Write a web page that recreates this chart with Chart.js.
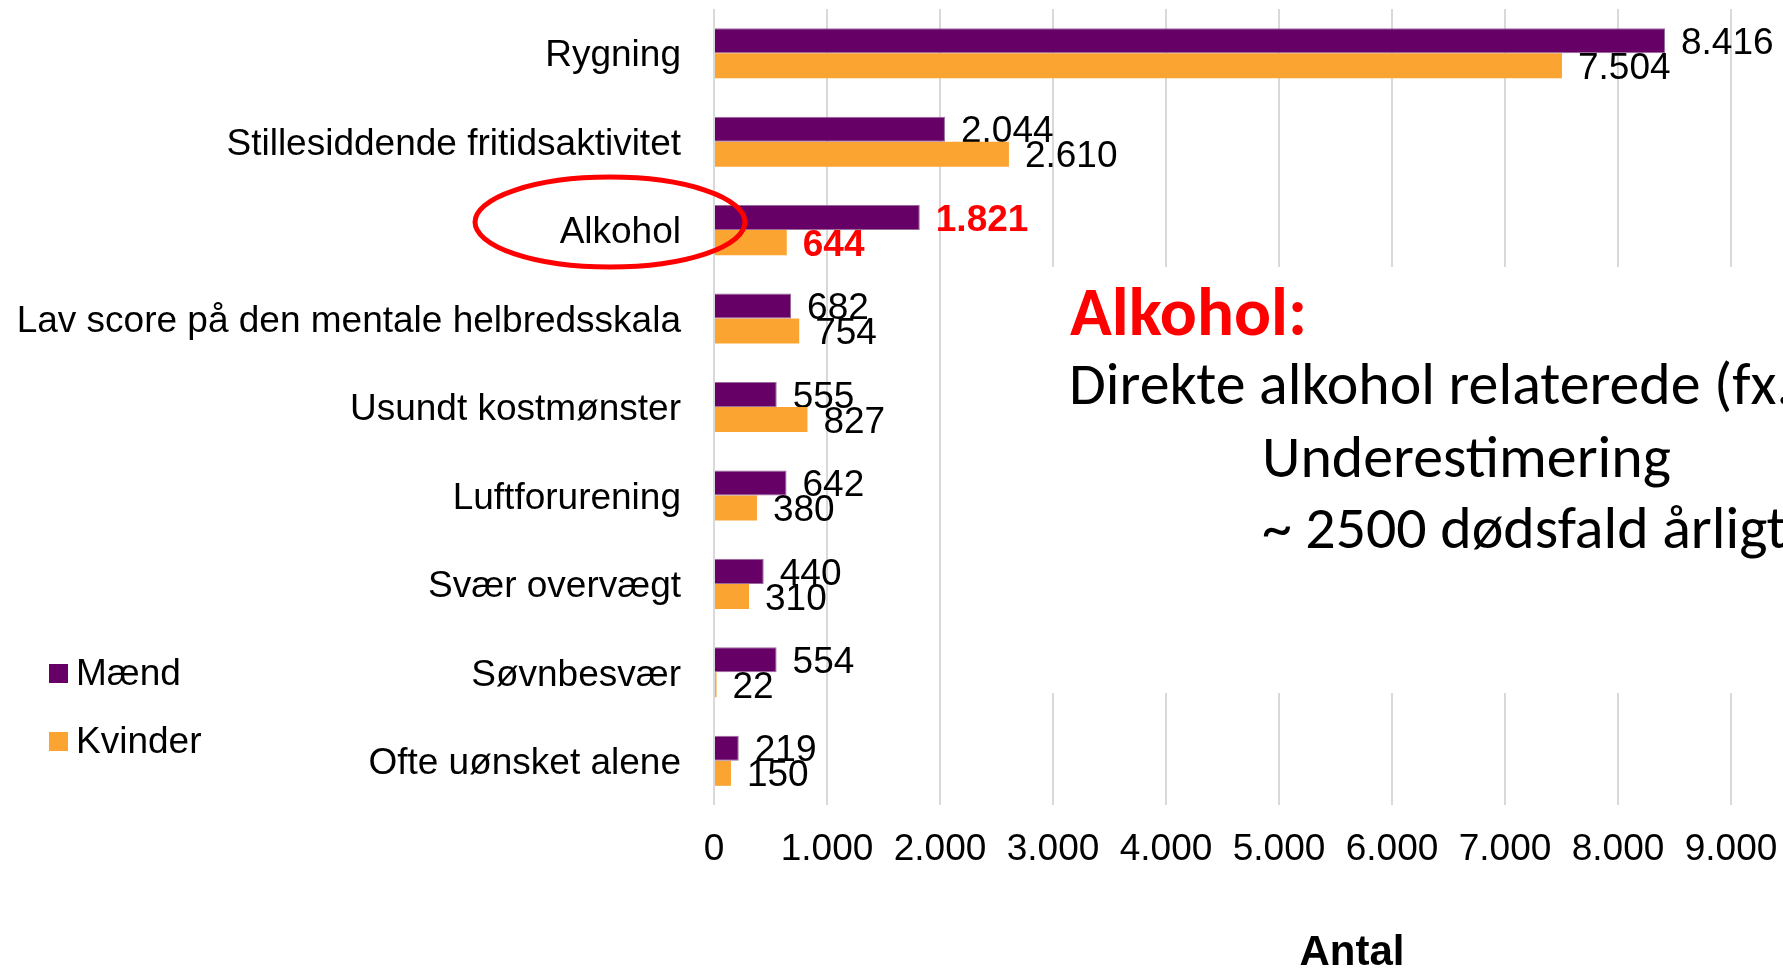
<!DOCTYPE html>
<html>
<head>
<meta charset="utf-8">
<script src="https://cdn.jsdelivr.net/npm/chart.js@4.4.1/dist/chart.umd.min.js"></script>
<style>
    html, body { margin: 0; padding: 0; background: #fff; overflow: hidden; }
</style>
</head>
<body>
<canvas id="bar-chart" width="1783" height="971"></canvas>
<script>
// Data
var categories = ['Rygning', 'Stillesiddende fritidsaktivitet', 'Alkohol', 'Lav score på den mentale helbredsskala',
    'Usundt kostmønster', 'Luftforurening', 'Svær overvægt', 'Søvnbesvær', 'Ofte uønsket alene'];
var maend = [8416, 2044, 1821, 682, 555, 642, 440, 554, 219];
var kvinder = [7504, 2610, 644, 754, 827, 380, 310, 22, 150];
var seriesNames = ['Mænd', 'Kvinder'];
var xTickLabels = ['0', '1.000', '2.000', '3.000', '4.000', '5.000', '6.000', '7.000', '8.000', '9.000'];
var axisTitle = 'Antal';
var highlight = 'Alkohol';
var noteTitle = 'Alkohol:';
var noteLines = ['Direkte alkohol relaterede (fx.', 'Underestimering', '~ 2500 dødsfald årligt'];

var colors = ['#660066', '#FBA431'];

// check which fonts are really there
function hasFont(name) {
    var c = document.createElement('canvas').getContext('2d');
    var s = 'Stillesiddende Mænd 1.000';
    c.font = '40px monospace';
    var a = c.measureText(s).width;
    c.font = '40px "' + name + '", monospace';
    return c.measureText(s).width !== a;
}
var narrow = hasFont('Liberation Sans Narrow');
var chartFamily = narrow ? '"Liberation Sans Narrow"' : '"Liberation Sans", Arial, sans-serif';
var chartSize = narrow ? 45 : 37;
var noteFamily = hasFont('Carlito') ? 'Carlito' : 'Lato';

function fmt(v) {
    return String(v).replace(/\B(?=(\d{3})+(?!\d))/g, '.');
}

function fitSize(c, font, text, width) {
    c.font = font.replace('SIZE', 100);
    return 100 * width / c.measureText(text).width;
}

function drawValues(chart, di) {
    var meta = chart.getDatasetMeta(di);
    var c = chart.ctx;
    c.save();
    c.textBaseline = 'middle';
    c.textAlign = 'left';
    meta.data.forEach(function (bar, i) {
        var hi = categories[i] === highlight;
        c.font = (hi ? 'bold ' : '') + chartSize + 'px ' + chartFamily;
        c.fillStyle = hi ? '#FF0000' : '#000';
        c.fillText(fmt(chart.data.datasets[di].data[i]), bar.x + 16, bar.y + 3);
    });
    c.restore();
}

var extras = {
    id: 'extras',
    beforeDatasetsDraw: function (chart) {
        // men's labels go under the women's bars, like the original
        drawValues(chart, 0);
    },
    afterDatasetsDraw: function (chart) {
        drawValues(chart, 1);
    },
    afterDraw: function (chart) {
        var c = chart.ctx;
        c.save();

        // red ring round the highlighted category
        var yh = chart.scales.y.getPixelForValue(categories.indexOf(highlight));
        c.strokeStyle = '#FF0000';
        c.lineWidth = 5;
        c.beginPath();
        c.ellipse(610, yh - 8, 135, 45, 0, 0, Math.PI * 2);
        c.stroke();

        // legend
        c.textBaseline = 'middle';
        c.textAlign = 'left';
        c.font = chartSize + 'px ' + chartFamily;
        [673, 741].forEach(function (y, i) {
            c.fillStyle = colors[i];
            c.fillRect(49, y - 9, 19, 19);
            c.fillStyle = '#000';
            c.fillText(seriesNames[i], 76, y + 2);
        });

        // axis title
        c.textAlign = 'center';
        c.font = 'bold ' + (narrow ? 50 : 42) + 'px ' + chartFamily;
        c.fillText(axisTitle, 1352, 953);

        // note box
        c.fillStyle = '#fff';
        c.fillRect(1000, 267, 783, 426);
        c.textAlign = 'left';
        c.textBaseline = 'alphabetic';
        var ts = fitSize(c, 'bold SIZEpx ' + noteFamily, noteTitle, 237);
        c.font = 'bold ' + ts + 'px ' + noteFamily;
        c.fillStyle = '#FF0000';
        c.fillText(noteTitle, 1070, 335);
        var bs = fitSize(c, 'SIZEpx ' + noteFamily, noteLines[1], 409);
        c.font = bs + 'px ' + noteFamily;
        c.fillStyle = '#000';
        c.fillText(noteLines[0], 1069, 404);
        c.fillText(noteLines[1], 1262, 477);
        c.fillText(noteLines[2], 1262, 548);
        c.restore();
    }
};

var ctx = document.getElementById('bar-chart').getContext('2d');
var tickFont = { family: chartFamily.replace(/"/g, ''), size: chartSize };

var barChart = new Chart(ctx, {
    type: 'bar',
    data: {
        labels: categories,
        datasets: [
            {
                label: seriesNames[0],
                data: maend,
                backgroundColor: colors[0],
                borderColor: '#9A6A9A',
                borderWidth: 1,
                barPercentage: 1,
                categoryPercentage: 0.566,
            },
            {
                label: seriesNames[1],
                data: kvinder,
                backgroundColor: colors[1],
                borderWidth: 0,
                barPercentage: 1,
                categoryPercentage: 0.566,
            },
        ],
    },
    options: {
        indexAxis: 'y',
        responsive: false,
        animation: false,
        layout: { padding: { left: 0, top: 9, right: 52, bottom: 0 } },
        scales: {
            x: {
                min: 0,
                max: 9000,
                ticks: {
                    stepSize: 1000,
                    autoSkip: false,
                    maxRotation: 0,
                    color: '#000',
                    font: tickFont,
                    padding: 23,
                    callback: function (v, i) { return xTickLabels[i]; },
                },
                grid: { color: '#D9D9D9', lineWidth: 2, drawTicks: false },
                border: { display: false },
                afterFit: function (s) {
                    s.height = 166;
                    s.paddingLeft = 0;
                    s.paddingRight = 0;
                },
            },
            y: {
                ticks: { color: '#000', font: tickFont, padding: 33, labelOffset: 3, autoSkip: false },
                grid: { display: false, drawTicks: false },
                border: { display: false },
                afterFit: function (s) {
                    s.width = 714;
                    s.paddingTop = 0;
                    s.paddingBottom = 0;
                },
            },
        },
        plugins: {
            legend: { display: false },
            tooltip: { enabled: false },
        },
    },
    plugins: [extras],
});
</script>
</body>
</html>
